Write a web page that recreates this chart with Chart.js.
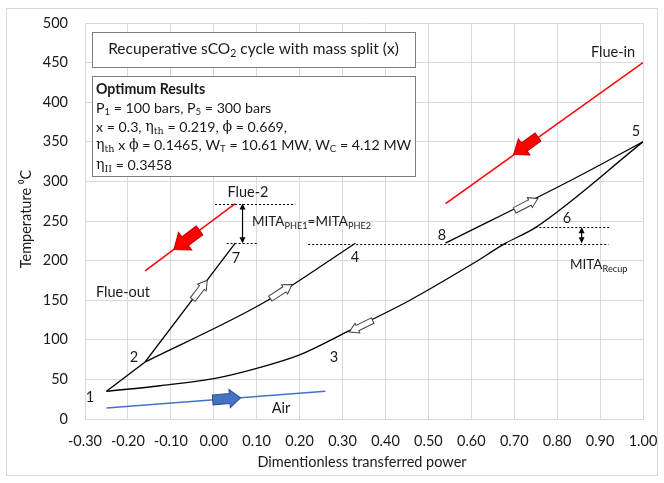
<!DOCTYPE html>
<html>
<head>
<meta charset="utf-8">
<script src="https://cdn.jsdelivr.net/npm/chart.js@4.4.0/dist/chart.umd.min.js"></script>
<style>
  html, body { margin: 0; padding: 0; background: #fff; }
</style>
</head>
<body>
<canvas id="c" width="664" height="483"></canvas>
<script>
// axis ticks
const X_TICKS = [-0.3, -0.2, -0.1, 0.0, 0.1, 0.2, 0.3, 0.4, 0.5, 0.6, 0.7, 0.8, 0.9, 1.0];
const Y_TICKS = [0, 50, 100, 150, 200, 250, 300, 350, 400, 450, 500];

// cycle lines
const lowX = [-0.25, -0.125, 0.0, 0.1, 0.2, 0.31, 0.457, 0.6, 0.68, 0.75, 1.0];
const lowY = [35, 42, 51, 64, 81, 110, 150, 195, 222, 242, 350];
const line127X = [-0.25, -0.16, 0.05];
const line127Y = [35, 72, 222];
const line24X = [-0.16, 0.12, 0.33];
const line24Y = [72, 148, 222];
const line85X = [0.54, 0.838, 1.0];
const line85Y = [222, 303, 350];

// hot and cold streams
const flueInX = [0.54, 1.0];
const flueInY = [272, 450];
const flue2X = [-0.16, 0.05];
const flue2Y = [187, 272];
const airX = [-0.25, 0.26];
const airY = [14, 35];

const FONT = 'Lato, "Open Sans", sans-serif';
const TXT = '#1a1a1a';

function pts(xs, ys) {
    return xs.map((x, i) => ({x: x, y: ys[i]}));
}

function lineSet(xs, ys, color, width, smooth) {
    return {
        data: pts(xs, ys),
        showLine: true,
        borderColor: color,
        borderWidth: width,
        pointRadius: 0,
        fill: false,
        cubicInterpolationMode: smooth ? 'monotone' : 'default',
        tension: 0
    };
}

// block arrow centred at (cx,cy) pointing along angle a
function blockArrow(ctx, cx, cy, a, len, shaftW, headW, headLen, fill, stroke) {
    ctx.save();
    ctx.translate(cx, cy);
    ctx.rotate(a);
    const h = len / 2;
    ctx.beginPath();
    ctx.moveTo(-h, -shaftW / 2);
    ctx.lineTo(h - headLen, -shaftW / 2);
    ctx.lineTo(h - headLen, -headW / 2);
    ctx.lineTo(h, 0);
    ctx.lineTo(h - headLen, headW / 2);
    ctx.lineTo(h - headLen, shaftW / 2);
    ctx.lineTo(-h, shaftW / 2);
    ctx.closePath();
    ctx.fillStyle = fill;
    ctx.fill();
    ctx.lineWidth = 1;
    ctx.strokeStyle = stroke;
    ctx.stroke();
    ctx.restore();
}

// rich text: segments {t, sub, bold, serif}
function segFont(s, size) {
    const fs = s.sub ? size * 0.68 : size;
    const fam = s.serif ? '"DejaVu Serif", "Liberation Serif", serif' : FONT;
    return (s.bold ? 'bold ' : '') + fs + 'px ' + fam;
}

function richText(ctx, x, y, segs, size) {
    let cx = x;
    for (const s of segs) {
        ctx.font = segFont(s, size);
        ctx.textBaseline = 'middle';
        ctx.textAlign = 'left';
        ctx.fillText(s.t, cx, s.sub ? y + size * 0.3 : y);
        cx += ctx.measureText(s.t).width;
    }
    return cx - x;
}

function richWidth(ctx, segs, size) {
    let w = 0;
    for (const s of segs) {
        ctx.font = segFont(s, size);
        w += ctx.measureText(s.t).width;
    }
    return w;
}

const overlay = {
    id: 'overlay',
    afterDraw(chart) {
        const ctx = chart.ctx;
        const xs = chart.scales.x, ys = chart.scales.y;
        const px = v => xs.getPixelForValue(v);
        const py = v => ys.getPixelForValue(v);
        const ang = (x0, y0, x1, y1) => Math.atan2(py(y1) - py(y0), px(x1) - px(x0));

        // outer border
        ctx.save();
        ctx.strokeStyle = '#d9d9d9';
        ctx.lineWidth = 1;
        ctx.strokeRect(6.5, 8.5, 651, 467);

        // dotted guide lines
        ctx.strokeStyle = '#000';
        ctx.setLineDash([2, 2]);
        const dotted = [[0.003, 0.19, 272], [0.03, 0.10, 222], [0.22, 0.92, 221], [0.749, 0.924, 242]];
        for (const d of dotted) {
            ctx.beginPath();
            ctx.moveTo(px(d[0]), Math.round(py(d[2])) + 0.5);
            ctx.lineTo(px(d[1]), Math.round(py(d[2])) + 0.5);
            ctx.stroke();
        }
        ctx.setLineDash([]);

        // double arrows
        function dblArrow(x, y0, y1) {
            const X = px(x), A = py(y0), B = py(y1);
            ctx.beginPath();
            ctx.moveTo(X, A + 1);
            ctx.lineTo(X, B - 1);
            ctx.lineWidth = 1.2;
            ctx.stroke();
            ctx.fillStyle = '#000';
            ctx.beginPath();
            ctx.moveTo(X, A); ctx.lineTo(X - 3, A + 6); ctx.lineTo(X + 3, A + 6); ctx.closePath(); ctx.fill();
            ctx.beginPath();
            ctx.moveTo(X, B); ctx.lineTo(X - 3, B - 6); ctx.lineTo(X + 3, B - 6); ctx.closePath(); ctx.fill();
        }
        dblArrow(0.067, 272, 222);
        dblArrow(0.857, 242, 222);

        // flow arrows
        blockArrow(ctx, px(0.727), py(345), ang(1.0, 450, 0.54, 272), 30, 10, 20, 13, '#ff0000', '#c00000');
        blockArrow(ctx, px(-0.063), py(226), ang(0.05, 272, -0.16, 187), 32, 11, 22, 14, '#ff0000', '#c00000');
        blockArrow(ctx, px(0.03), py(25.5), ang(-0.25, 14, 0.26, 35), 28, 10, 18, 11, '#4472c4', '#2f528f');
        blockArrow(ctx, px(-0.032), py(163), ang(-0.16, 72, 0.05, 222), 24, 6, 11, 9, '#fff', '#404040');
        blockArrow(ctx, px(0.157), py(161), ang(0.12, 148, 0.33, 222), 26, 6, 11, 9, '#fff', '#404040');
        blockArrow(ctx, px(0.343), py(117), ang(0.457, 150, 0.2, 81), 26, 6, 11, 9, '#fff', '#404040');
        blockArrow(ctx, px(0.728), py(271), ang(0.54, 222, 1.0, 350), 26, 6, 11, 9, '#fff', '#404040');

        // point and stream labels
        ctx.fillStyle = TXT;
        ctx.font = '14.5px ' + FONT;
        ctx.textAlign = 'center';
        ctx.textBaseline = 'middle';
        const labels = [
            ['1', 90, 397], ['2', 134, 357], ['3', 334, 357], ['4', 355, 257],
            ['5', 636, 131], ['6', 567, 218], ['7', 236, 258], ['8', 442, 235],
            ['Flue-in', 613, 52], ['Flue-2', 248, 192], ['Flue-out', 123, 292], ['Air', 281, 408]
        ];
        for (const l of labels) ctx.fillText(l[0], l[1], l[2]);

        richText(ctx, 252, 222, [{t: 'MITA'}, {t: 'PHE1', sub: true}, {t: '=MITA'}, {t: 'PHE2', sub: true}], 13.5);
        richText(ctx, 570, 265, [{t: 'MITA'}, {t: 'Recup', sub: true}], 13.5);

        // axis titles
        ctx.font = '14.5px ' + FONT;
        ctx.textAlign = 'center';
        ctx.fillText('Dimentionless transferred power', 362, 462);
        ctx.save();
        ctx.translate(26, 219);
        ctx.rotate(-Math.PI / 2);
        ctx.fillText('Temperature \u2070C', 0, 0);
        ctx.restore();

        // title box
        ctx.fillStyle = '#fff';
        ctx.fillRect(92, 32, 323, 35);
        ctx.strokeStyle = '#7f7f7f';
        ctx.lineWidth = 1;
        ctx.strokeRect(92.5, 32.5, 323, 35);
        ctx.fillStyle = TXT;
        const title = [{t: 'Recuperative sCO'}, {t: '2', sub: true}, {t: ' cycle with mass split (x)'}];
        const tw = richWidth(ctx, title, 15.5);
        richText(ctx, 253.5 - tw / 2, 49, title, 15.5);

        // results box
        ctx.fillStyle = '#fff';
        ctx.fillRect(92, 76, 323, 100);
        ctx.strokeRect(92.5, 76.5, 323, 100);
        ctx.fillStyle = TXT;
        const eta = {t: '\u03b7', serif: true};
        const phi = {t: '\u03d5', serif: true};
        const rows = [
            [{t: 'Optimum Results', bold: true}],
            [{t: 'P'}, {t: '1', sub: true}, {t: ' = 100 bars, P'}, {t: '5', sub: true}, {t: ' = 300 bars'}],
            [{t: 'x = 0.3, '}, eta, {t: 'th', sub: true, serif: true}, {t: ' = 0.219, '}, phi, {t: ' = 0.669,'}],
            [eta, {t: 'th', sub: true, serif: true}, {t: ' x '}, phi, {t: ' = 0.1465, W'}, {t: 'T', sub: true},
                {t: ' = 10.61 MW, W'}, {t: 'C', sub: true}, {t: ' = 4.12 MW'}],
            [eta, {t: 'II', sub: true, serif: true}, {t: ' = 0.3458'}]
        ];
        const rowY = [89, 108, 127, 145, 165];
        rows.forEach((r, i) => richText(ctx, 96, rowY[i], r, 14.2));
        ctx.restore();
    }
};

const ctx = document.getElementById('c').getContext('2d');
new Chart(ctx, {
    type: 'scatter',
    data: {
        datasets: [
            lineSet(flueInX, flueInY, '#ff0000', 1.5, false),
            lineSet(flue2X, flue2Y, '#ff0000', 1.5, false),
            lineSet(airX, airY, '#4472c4', 1.5, false),
            lineSet(lowX, lowY, '#000', 1.3, true),
            lineSet(line127X, line127Y, '#000', 1.3, false),
            lineSet(line24X, line24Y, '#000', 1.3, true),
            lineSet(line85X, line85Y, '#000', 1.3, true)
        ]
    },
    options: {
        responsive: false,
        animation: false,
        events: [],
        layout: {padding: {left: 0, right: 21, top: 23, bottom: 0}},
        plugins: {legend: {display: false}, tooltip: {enabled: false}},
        scales: {
            x: {
                type: 'linear',
                min: X_TICKS[0],
                max: X_TICKS[X_TICKS.length - 1],
                afterBuildTicks: s => { s.ticks = X_TICKS.map(v => ({value: v})); },
                afterFit: s => { s.height = 64; s.paddingLeft = 0; s.paddingRight = 0; },
                ticks: {
                    callback: v => (Math.abs(v) < 1e-9 ? 0 : v).toFixed(2),
                    font: {family: FONT, size: 14.5},
                    color: TXT,
                    padding: 14,
                    maxRotation: 0,
                    autoSkip: false
                },
                grid: {color: '#d9d9d9', drawTicks: false},
                border: {color: '#d9d9d9'}
            },
            y: {
                min: Y_TICKS[0],
                max: Y_TICKS[Y_TICKS.length - 1],
                afterBuildTicks: s => { s.ticks = Y_TICKS.map(v => ({value: v})); },
                afterFit: s => { s.width = 85; s.paddingTop = 0; s.paddingBottom = 0; },
                ticks: {
                    font: {family: FONT, size: 14.5},
                    color: TXT,
                    padding: 17
                },
                grid: {color: '#d9d9d9', drawTicks: false},
                border: {color: '#d9d9d9'}
            }
        }
    },
    plugins: [overlay]
});
</script>
</body>
</html>
